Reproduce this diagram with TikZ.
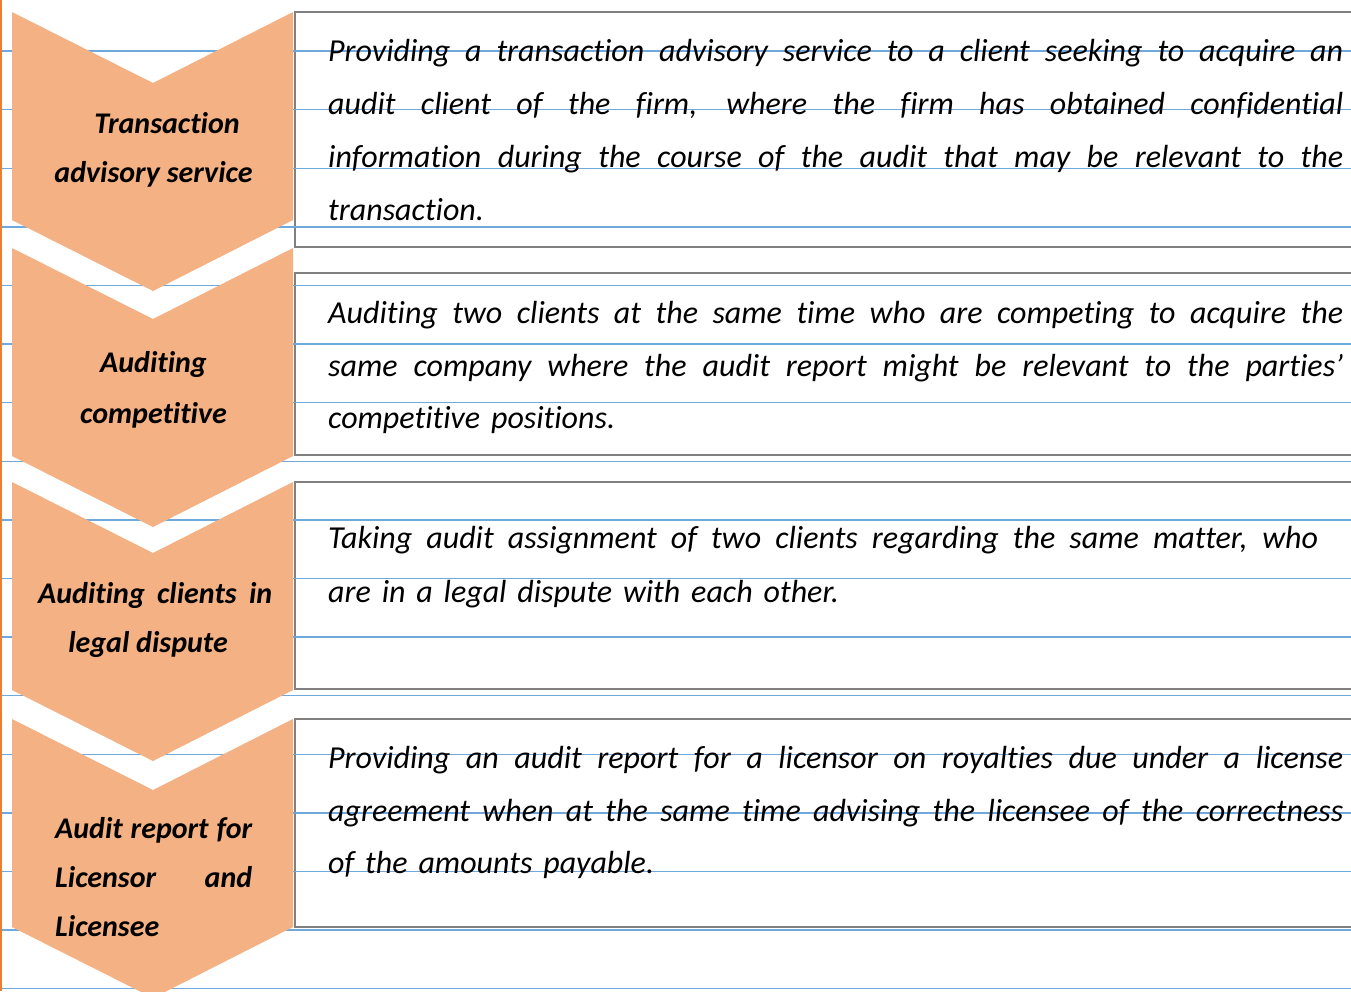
\documentclass[tikz,border=0pt]{standalone}
\usepackage{fontspec}
\setmainfont{Carlito}[Ligatures=NoCommon]
\newfontfamily\bodyfam{Carlito}[Ligatures=NoCommon,WordSpace=1.5]
\definecolor{chev}{HTML}{F4B183}
\definecolor{ruleblue}{HTML}{6FA8DC}
\definecolor{marginorange}{HTML}{ED7D31}
\definecolor{boxgray}{HTML}{808080}
\newcommand{\bodyfnt}{\bodyfam\fontsize{32}{53}\selectfont\itshape}
\newcommand{\chevfnt}{\fontsize{30}{49}\selectfont\bfseries\itshape}
\newcommand{\jl}[1]{\makebox[1015pt][s]{#1}}
\begin{document}
\begin{tikzpicture}[x=1pt,y=-1pt,
  descbox/.style={draw=boxgray,line width=2.5pt,fill=white},
  chevshape/.style={fill=chev,draw=none},
  bodyline/.style={anchor=base west,inner sep=0pt,font=\bodyfnt},
  chevlabel/.style={anchor=base,inner sep=0pt,font=\chevfnt},
  chevlabelw/.style={anchor=base west,inner sep=0pt,font=\chevfnt},
  notebookline/.style={draw=ruleblue,line width=1.4pt}]
\useasboundingbox (0,0) rectangle (1351,991);
\fill[white] (0,0) rectangle (1351,991);
% description boxes
\draw[descbox] (295,12) rectangle (1365,247);
\draw[descbox] (295,273) rectangle (1365,455);
\draw[descbox] (295,482) rectangle (1365,689);
\draw[descbox] (295,719) rectangle (1365,927);
% notebook rules
\foreach \k in {0,...,16} {
  \draw[notebookline] (2,51+58.6*\k) -- (1351,51+58.6*\k);
}
% margin line
\draw[marginorange,line width=2.2pt] (1.1,0) -- (1.1,991);
% chevrons
\foreach \t in {12,248,482,719} {
  \path[chevshape] (12,\t) -- (153,\t+71) -- (293,\t) -- (293,\t+208)
     -- (153,\t+279) -- (12,\t+208) -- cycle;
}
% chevron labels
\node[chevlabel] (c1a) at (167,133) {Transaction};
\node[chevlabel] (c1b) at (153.5,182) {advisory service};
\node[chevlabel] (c2a) at (153.5,372) {Auditing};
\node[chevlabel] (c2b) at (153.5,423) {competitive};
\node[chevlabelw] (c3a) at (38,603) {\makebox[234pt][s]{Auditing clients in}};
\node[chevlabel] (c3b) at (148,652) {legal dispute};
\node[chevlabelw] (c4a) at (55,838) {\makebox[197pt][s]{Audit report for}};
\node[chevlabelw] (c4b) at (55,887) {\makebox[197pt][s]{Licensor and}};
\node[chevlabelw] (c4c) at (55,936) {Licensee};
% box 1 text
\node[bodyline] (t1a) at (328,61) {\jl{Providing a transaction advisory service to a client seeking to acquire an}};
\node[bodyline] (t1b) at (328,114) {\jl{audit client of the firm, where the firm has obtained confidential}};
\node[bodyline] (t1c) at (328,167) {\jl{information during the course of the audit that may be relevant to the}};
\node[bodyline] (t1d) at (328,220) {transaction.};
% box 2 text
\node[bodyline] (t2a) at (328,323) {\jl{Auditing two clients at the same time who are competing to acquire the}};
\node[bodyline] (t2b) at (328,376) {\jl{same company where the audit report might be relevant to the parties’}};
\node[bodyline] (t2c) at (328,428) {competitive positions.};
% box 3 text
\node[bodyline] (t3a) at (328,548) {\makebox[990pt][s]{Taking audit assignment of two clients regarding the same matter, who}};
\node[bodyline] (t3b) at (328,602) {are in a legal dispute with each other.};
% box 4 text
\node[bodyline] (t4a) at (328,768) {\jl{Providing an audit report for a licensor on royalties due under a license}};
\node[bodyline] (t4b) at (328,821) {\jl{agreement when at the same time advising the licensee of the correctness}};
\node[bodyline] (t4c) at (328,873) {of the amounts payable.};
\end{tikzpicture}
\end{document}
